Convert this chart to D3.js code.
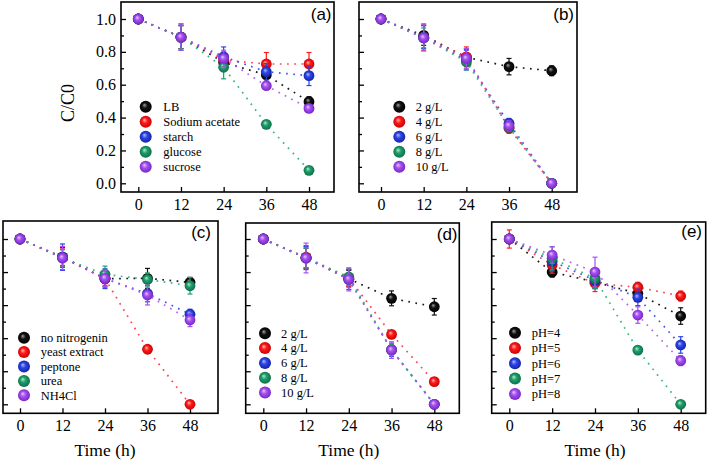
<!DOCTYPE html>
<html><head><meta charset="utf-8">
<script src="https://cdn.jsdelivr.net/npm/d3@7"></script>
<style>html,body{margin:0;padding:0;background:#fff;}svg{display:block;}</style>
</head><body>
<svg id="chart" width="708" height="462"></svg>
<script>
// ---------------- DATA ----------------
const times = [0, 12, 24, 36, 48];
const yTicks = [0, 0.2, 0.4, 0.6, 0.8, 1.0];
const yMinorTicks = [0.1, 0.3, 0.5, 0.7, 0.9];
const colorKeys = ["black", "red", "blue", "green", "purple"];

const aNames = ["LB", "Sodium acetate", "starch", "glucose", "sucrose"];
const aValues = [
  [1, 0.89, 0.736, 0.659, 0.497],
  [1, 0.89, 0.75, 0.726, 0.726],
  [1, 0.89, 0.77, 0.679, 0.655],
  [1, 0.89, 0.706, 0.359, 0.079],
  [1, 0.889, 0.76, 0.594, 0.456]
];
const aErrors = [
  [0, 0.07, 0.04, 0.05, 0.03],
  [0, 0.07, 0.05, 0.07, 0.07],
  [0, 0.08, 0.06, 0.05, 0.06],
  [0, 0.07, 0.07, 0.02, 0.01],
  [0, 0.08, 0.05, 0.02, 0.02]
];

const bNames = ["2 g/L", "4 g/L", "6 g/L", "8 g/L", "10 g/L"];
const bValues = [
  [1, 0.90, 0.767, 0.71, 0.685],
  [1, 0.89, 0.77, 0.335, 0],
  [1, 0.89, 0.75, 0.365, 0],
  [1, 0.885, 0.74, 0.34, 0],
  [1, 0.885, 0.76, 0.35, 0]
];
const bErrors = [
  [0, 0.06, 0.05, 0.05, 0.03],
  [0, 0.08, 0.06, 0.03, 0],
  [0, 0.07, 0.06, 0.03, 0],
  [0, 0.06, 0.05, 0.02, 0],
  [0, 0.08, 0.06, 0.03, 0]
];

const cNames = ["no nitrogenin", "yeast extract", "peptone", "urea", "NH4Cl"];
const cValues = [
  [1, 0.89, 0.76, 0.762, 0.738],
  [1, 0.89, 0.76, 0.333, 0],
  [1, 0.89, 0.76, 0.67, 0.545],
  [1, 0.885, 0.786, 0.755, 0.717],
  [1, 0.885, 0.762, 0.661, 0.51]
];
const cErrors = [
  [0, 0.06, 0.05, 0.06, 0.03],
  [0, 0.05, 0.04, 0.02, 0],
  [0, 0.08, 0.06, 0.05, 0.03],
  [0, 0.05, 0.05, 0.04, 0.05],
  [0, 0.07, 0.05, 0.06, 0.04]
];

const dNames = ["2 g/L", "4 g/L", "6 g/L", "8 g/L", "10 g/L"];
const dValues = [
  [1, 0.885, 0.76, 0.641, 0.59],
  [1, 0.89, 0.765, 0.423, 0.137],
  [1, 0.885, 0.755, 0.33, 0],
  [1, 0.885, 0.77, 0.33, 0],
  [1, 0.885, 0.756, 0.328, 0]
];
const dErrors = [
  [0, 0.06, 0.05, 0.045, 0.05],
  [0, 0.07, 0.05, 0.02, 0.01],
  [0, 0.07, 0.06, 0.04, 0],
  [0, 0.06, 0.05, 0.03, 0],
  [0, 0.09, 0.07, 0.05, 0]
];

const eNames = ["pH=4", "pH=5", "pH=6", "pH=7", "pH=8"];
const eValues = [
  [1, 0.80, 0.74, 0.67, 0.534],
  [1, 0.843, 0.732, 0.708, 0.655],
  [1, 0.865, 0.75, 0.647, 0.359],
  [1, 0.883, 0.762, 0.328, 0],
  [1, 0.903, 0.80, 0.54, 0.264]
];
const eErrors = [
  [0, 0.03, 0.04, 0.04, 0.05],
  [0.055, 0.05, 0.05, 0.03, 0.03],
  [0, 0.06, 0.05, 0.05, 0.05],
  [0, 0.07, 0.06, 0.02, 0.01],
  [0, 0.05, 0.09, 0.05, 0.03]
];

// ---------------- STYLE / LAYOUT ----------------
const palette = {
  black:  {base: "#111111", light: "#a0a0a0", dark: "#000000", line: "#000000"},
  red:    {base: "#ff1a1a", light: "#ffb8b8", dark: "#c00000", line: "#ff3040"},
  blue:   {base: "#2d45e6", light: "#b0bcff", dark: "#1020a0", line: "#2d45e6"},
  green:  {base: "#1f9e6c", light: "#aeeccc", dark: "#0b6a44", line: "#22b070"},
  purple: {base: "#a550f0", light: "#e6c8ff", dark: "#7420c0", line: "#b050f0"}
};

const panels = [
  {id: "a", names: aNames, values: aValues, errors: aErrors,
   frame: [121, 2, 334, 192], x0: 138.3, x48: 309, y1: 19, y0: 183.3,
   yLabels: true, xTitle: false, label: "(a)", labelX: 331.5, labelY: 20,
   legX: 145.7, legY: 106.7, legDy: 15, legTextX: 163.3},
  {id: "b", names: bNames, values: bValues, errors: bErrors,
   frame: [359, 2, 577, 192], x0: 381, x48: 551.7, y1: 19, y0: 183.3,
   yLabels: false, xTitle: false, label: "(b)", labelX: 574, labelY: 20,
   legX: 399.3, legY: 106.7, legDy: 15, legTextX: 415.7},
  {id: "c", names: cNames, values: cValues, errors: cErrors,
   frame: [3, 221, 218, 413.3], x0: 20, x48: 190, y1: 239, y0: 404.3,
   yLabels: false, xTitle: true, label: "(c)", labelX: 211, labelY: 238,
   legX: 24, legY: 337.7, legDy: 14.4, legTextX: 40.7},
  {id: "d", names: dNames, values: dValues, errors: dErrors,
   frame: [245.7, 223, 459.3, 413.3], x0: 263.3, x48: 434.3, y1: 239, y0: 404.3,
   yLabels: false, xTitle: true, label: "(d)", labelX: 457.5, labelY: 239.5,
   legX: 265, legY: 333.3, legDy: 14.8, legTextX: 281},
  {id: "e", names: eNames, values: eValues, errors: eErrors,
   frame: [491.7, 222, 705.7, 413.3], x0: 509.3, x48: 680.7, y1: 239, y0: 404.3,
   yLabels: false, xTitle: true, label: "(e)", labelX: 702, labelY: 237,
   legX: 515, legY: 332.7, legDy: 15.3, legTextX: 531.7}
];

const svg = d3.select("#chart");
const defs = svg.append("defs");
colorKeys.forEach(k => {
  const p = palette[k];
  const g = defs.append("radialGradient").attr("id", "grad-" + k)
    .attr("cx", "50%").attr("cy", "50%").attr("r", "55%")
    .attr("fx", "38%").attr("fy", "35%");
  g.append("stop").attr("offset", "0%").attr("stop-color", p.light);
  g.append("stop").attr("offset", "40%").attr("stop-color", p.base);
  g.append("stop").attr("offset", "100%").attr("stop-color", p.dark);
});

const serif = "Liberation Serif, DejaVu Serif, serif";
const sans = "Liberation Sans, Arial, sans-serif";

panels.forEach(P => {
  const [L, T, R, B] = P.frame;
  const x = d3.scaleLinear().domain([0, 48]).range([P.x0, P.x48]);
  const y = d3.scaleLinear().domain([0, 1]).range([P.y0, P.y1]);
  const g = svg.append("g");

  // y axis ticks (inward) via d3 axis
  const yAxis = d3.axisRight(y).tickValues(yTicks).tickSize(5)
    .tickFormat(P.yLabels ? d3.format(".1f") : "");
  const ya = g.append("g").attr("transform", `translate(${L},0)`).call(yAxis)
    .attr("font-family", serif).attr("font-size", 16);
  ya.select(".domain").remove();
  ya.selectAll("line").attr("stroke", "#000").attr("stroke-width", 1.3);
  ya.selectAll("text").attr("x", -5).attr("text-anchor", "end").attr("fill", "#000")
    .attr("font-weight", "normal");
  const yMinor = d3.axisRight(y).tickValues(yMinorTicks).tickSize(3).tickFormat("");
  const ym = g.append("g").attr("transform", `translate(${L},0)`).call(yMinor);
  ym.select(".domain").remove();
  ym.selectAll("line").attr("stroke", "#000").attr("stroke-width", 1.3);

  // x axis ticks (inward) with labels below
  const xAxis = d3.axisTop(x).tickValues(times).tickSize(5).tickFormat(d3.format("d"));
  const xa = g.append("g").attr("transform", `translate(0,${B})`).call(xAxis)
    .attr("font-family", serif).attr("font-size", 16);
  xa.select(".domain").remove();
  xa.selectAll("line").attr("stroke", "#000").attr("stroke-width", 1.3);
  xa.selectAll("text").attr("y", 17.5).attr("dy", null).attr("fill", "#000")
    .attr("font-weight", "normal");

  // frame
  g.append("rect").attr("x", L).attr("y", T).attr("width", R - L).attr("height", B - T)
    .attr("fill", "none").attr("stroke", "#000").attr("stroke-width", 1.6);

  // panel label
  g.append("text").attr("x", P.labelX).attr("y", P.labelY).attr("text-anchor", "end")
    .attr("font-family", sans).attr("font-size", 17).text(P.label);

  if (P.xTitle) {
    g.append("text").attr("x", (P.x0 + P.x48) / 2).attr("y", B + 43)
      .attr("text-anchor", "middle").attr("font-family", serif).attr("font-size", 17.5)
      .attr("font-weight", "normal").text("Time (h)");
  }

  const line = d3.line().x((d, i) => x(times[i])).y(d => y(d));
  // dotted lines
  P.values.forEach((vals, si) => {
    const p = palette[colorKeys[si]];
    g.append("path").attr("d", line(vals)).attr("fill", "none")
      .attr("stroke", p.line).attr("stroke-width", 1.7)
      .attr("stroke-dasharray", "1.7 5.5").attr("opacity", 0.9);
  });
  // error bars and markers
  P.values.forEach((vals, si) => {
    const k = colorKeys[si];
    const p = palette[k];
    const sg = g.append("g");
    vals.forEach((v, i) => {
      const e = P.errors[si][i];
      if (e > 0) {
        const cx = x(times[i]);
        sg.append("line").attr("x1", cx).attr("x2", cx).attr("y1", y(v - e)).attr("y2", y(v + e))
          .attr("stroke", p.base).attr("stroke-width", 1.2);
        [v - e, v + e].forEach(w => sg.append("line").attr("x1", cx - 2.5).attr("x2", cx + 2.5)
          .attr("y1", y(w)).attr("y2", y(w)).attr("stroke", p.base).attr("stroke-width", 1.2));
      }
    });
    sg.selectAll("circle").data(vals).join("circle")
      .attr("cx", (d, i) => x(times[i])).attr("cy", d => y(d)).attr("r", 5.4)
      .attr("fill", `url(#grad-${k})`);
  });

  // legend
  P.names.forEach((n, i) => {
    const k = colorKeys[i];
    const ly = P.legY + i * P.legDy;
    g.append("circle").attr("cx", P.legX).attr("cy", ly).attr("r", 6)
      .attr("fill", `url(#grad-${k})`);
    g.append("text").attr("x", P.legTextX).attr("y", ly + 4.3)
      .attr("font-family", serif).attr("font-size", 12.5).attr("fill", "#000").text(n);
  });
});

// y-axis title
svg.append("text").attr("transform", "translate(74,103) rotate(-90)")
  .attr("text-anchor", "middle").attr("font-family", serif).attr("font-size", 18)
  .text("C/C0");
</script>
</body></html>
